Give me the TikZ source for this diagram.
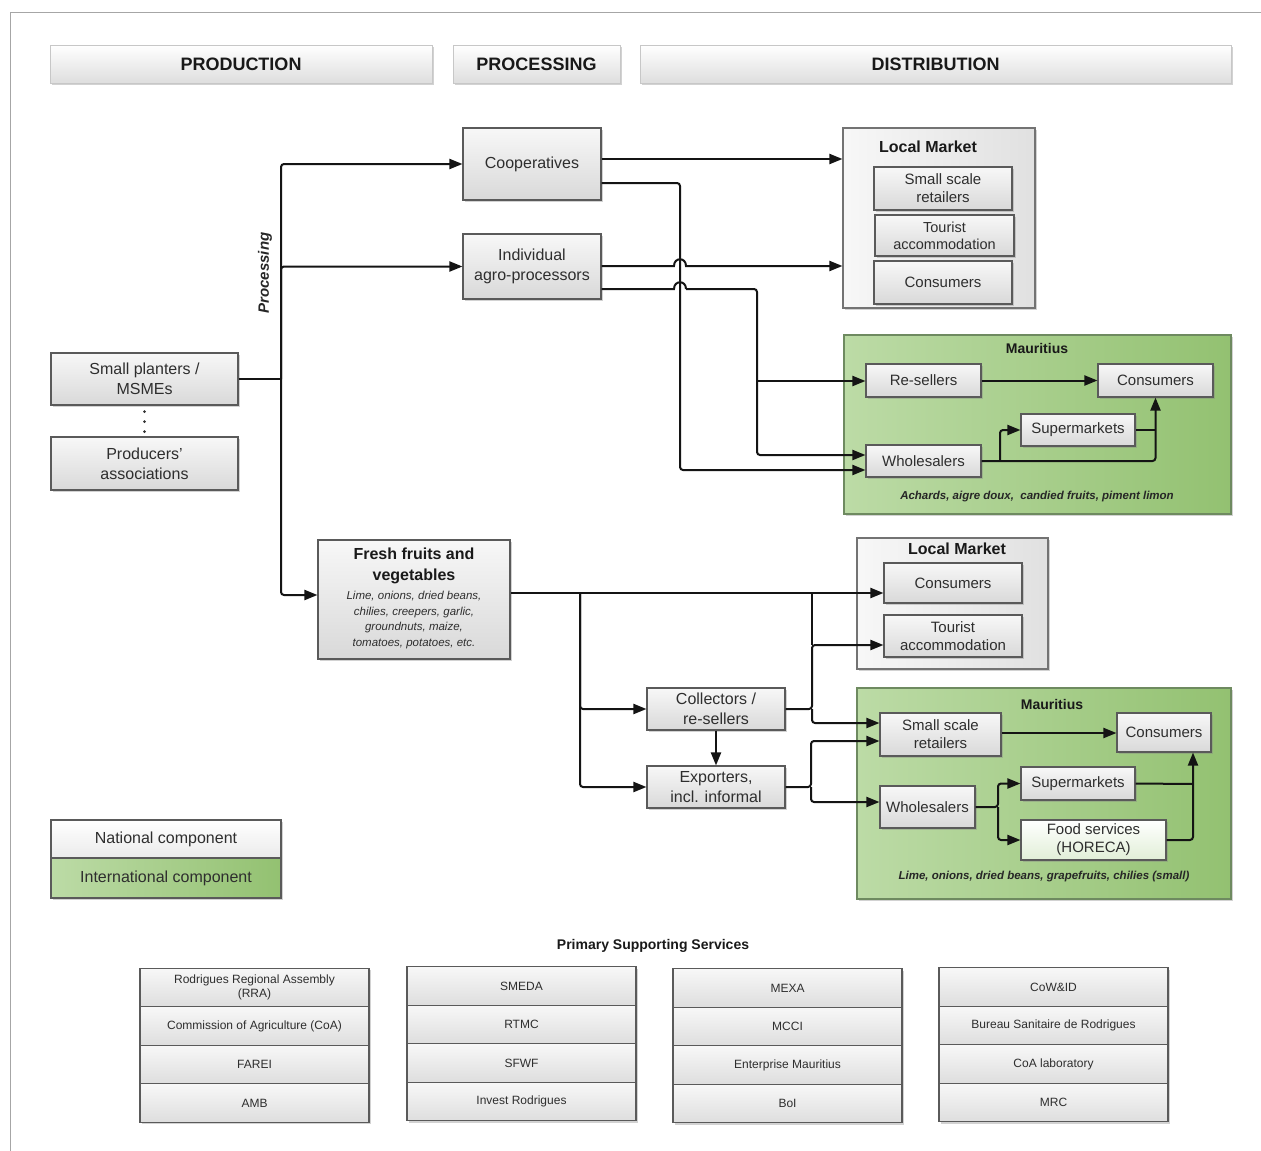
\documentclass[tikz,border=0pt]{standalone}
\usepackage{fontspec}
\setmainfont{Liberation Sans}
\usetikzlibrary{arrows.meta,shadows}
\definecolor{txt}{HTML}{2E2E2E}
\definecolor{bord}{HTML}{5A5A5A}
\definecolor{gA}{HTML}{BCDBA6}
\definecolor{gB}{HTML}{93C171}
\definecolor{gBord}{HTML}{6E8A60}
\tikzset{
  shd/.style={drop shadow={shadow xshift=1.5pt,shadow yshift=-1.8pt,opacity=0.35}},
  box/.style={draw=bord, line width=1.1pt, top color=white!97!black, bottom color=black!15, shd,
    align=center, inner sep=1pt, text=txt, font=\fontsize{15}{18}\selectfont},
  bigbox/.style={box, font=\fontsize{16}{20}\selectfont},
  hdr/.style={draw=black!22, line width=0.8pt, top color=white, bottom color=black!13, shd,
    font=\fontsize{18}{21}\selectfont\bfseries, text=black!90},
  lmbox/.style={draw=bord!85, line width=1.1pt, left color=white!97!black, right color=black!12, shd},
  mubox/.style={draw=gBord, line width=1.1pt, left color=gA, right color=gB, shd},
  ttl/.style={font=\fontsize{16}{19}\selectfont\bfseries, text=black!90},
  mttl/.style={font=\fontsize{14}{17}\selectfont\bfseries, text=black!90},
  note/.style={font=\fontsize{11.5}{14}\selectfont\bfseries\itshape, text=black!85},
  svc/.style={draw=bord, line width=1.1pt, top color=white!97!black, bottom color=black!13, shd,
    align=center, inner sep=1pt, text=txt, font=\fontsize{12}{14}\selectfont,
    minimum width=229pt, minimum height=38.5pt},
  ln/.style={draw=black!92, line width=2pt, rounded corners=3pt},
  conn/.style={ln, -{Triangle[length=13pt,width=10pt]}},
}
\begin{document}
\begin{tikzpicture}[x=1pt,y=-1pt]
\fill[white] (0,0) rectangle (1261,1151);
\useasboundingbox (0,0) rectangle (1261,1151);
\draw[black!35, line width=1pt] (1261,12) -- (10,12) -- (10,1151);

% headers
\node[hdr, minimum width=382pt, minimum height=38pt] (hprod) at (241,64) {PRODUCTION};
\node[hdr, minimum width=167pt, minimum height=38pt] (hproc) at (536.5,64) {PROCESSING};
\node[hdr, minimum width=591pt, minimum height=38pt] (hdist) at (935.5,64) {DISTRIBUTION};

% production
\node[bigbox, minimum width=187pt, minimum height=52pt] (planters) at (144.5,379) {Small planters /\\MSMEs};
\node[bigbox, minimum width=187pt, minimum height=53pt] (assoc) at (144.5,463.5) {Producers'\\associations};
\draw[black!80, line width=3pt, line cap=round, dash pattern=on 0pt off 10pt] ([yshift=-6pt]planters.south) -- ([yshift=4pt]assoc.north);

% processing
\node[bigbox, minimum width=138pt, minimum height=72pt] (coop) at (532,164) {Cooperatives};
\node[bigbox, minimum width=138pt, minimum height=65pt] (indiv) at (532,266.5) {Individual\\agro-processors};
\node[rotate=90, font=\fontsize{15}{18}\selectfont\bfseries\itshape, text=black!85] (proclab) at (265,273) {Processing};

% local market 1
\node[lmbox, minimum width=192pt, minimum height=180pt] (lm1) at (939,218) {};
\node[ttl] (lm1t) at (928,147) {Local Market};
\node[box, minimum width=138pt, minimum height=43pt] (lm1a) at (943,188.5) {Small scale\\retailers};
\node[box, minimum width=139pt, minimum height=41pt, font=\fontsize{14.5}{17}\selectfont] (lm1b) at (944.5,235.5) {Tourist\\accommodation};
\node[box, minimum width=138pt, minimum height=43pt] (lm1c) at (943,282.5) {Consumers};

% mauritius 1
\node[mubox, minimum width=387pt, minimum height=179pt] (mu1) at (1037.5,424.5) {};
\node[mttl] (mu1t) at (1037,348) {Mauritius};
\node[box, minimum width=115pt, minimum height=33pt] (resell) at (923.5,380.5) {Re-sellers};
\node[box, minimum width=115pt, minimum height=33pt] (cons1) at (1155.5,380.5) {Consumers};
\node[box, minimum width=114pt, minimum height=32pt] (super1) at (1078,430) {Supermarkets};
\node[box, minimum width=115pt, minimum height=32pt] (whole1) at (923.5,461) {Wholesalers};
\node[note] (note1) at (1037,497) {Achards, aigre doux,\ \ candied fruits, piment limon};

% fresh
\node[box, minimum width=192pt, minimum height=119pt] (fresh) at (414,599.5) {};
\node[align=center, font=\fontsize{16}{21}\selectfont\bfseries, text=black!90] (freshT) at (414,565.5) {Fresh fruits and\\vegetables};
\node[align=center, font=\fontsize{11.5}{15.5}\selectfont\itshape, text=txt] (freshL) at (414,620) {Lime, onions, dried beans,\\chilies, creepers, garlic,\\groundnuts, maize,\\tomatoes, potatoes, etc.};

% local market 2
\node[lmbox, minimum width=191pt, minimum height=131pt] (lm2) at (952.5,603.5) {};
\node[ttl] (lm2t) at (957,549) {Local Market};
\node[box, minimum width=138pt, minimum height=40pt] (lm2a) at (953,583) {Consumers};
\node[box, minimum width=138pt, minimum height=42pt] (lm2b) at (953,636) {Tourist\\accommodation};

% collectors / exporters
\node[bigbox, minimum width=138pt, minimum height=42pt] (coll) at (716,709) {Collectors /\\re-sellers};
\node[bigbox, minimum width=138pt, minimum height=42pt] (expo) at (716,787) {Exporters,\\incl. informal};

% mauritius 2
\node[mubox, minimum width=374pt, minimum height=211pt] (mu2) at (1044,793.5) {};
\node[mttl] (mu2t) at (1052,704) {Mauritius};
\node[box, minimum width=121pt, minimum height=43pt] (ssr2) at (940.5,734.5) {Small scale\\retailers};
\node[box, minimum width=94pt, minimum height=39pt] (cons2) at (1164,732.5) {Consumers};
\node[box, minimum width=114pt, minimum height=33pt] (super2) at (1078,783.5) {Supermarkets};
\node[box, minimum width=95pt, minimum height=42pt] (whole2) at (927.5,807) {Wholesalers};
\node[box, top color=white, bottom color=gA!45, minimum width=145pt, minimum height=40pt] (food) at (1093.5,840) {Food services\\(HORECA)};
\node[note] (note2) at (1044,877) {Lime, onions, dried beans, grapefruits, chilies (small)};

% legend
\node[bigbox, top color=white, bottom color=black!8, minimum width=230pt, minimum height=38pt] (legnat) at (166,839) {National component};
\node[bigbox, left color=gA, right color=gB, minimum width=230pt, minimum height=40pt] (legint) at (166,878) {International component};

% connectors - processing
\coordinate (trunk) at (281,379);
\draw[ln] (planters.east) -- (trunk);
\draw[conn] (trunk) |- (coop.west);
\draw[conn] (trunk) |- (indiv.west);
\draw[conn] (trunk) |- (fresh.west |- 0,595);

\draw[conn] (coop.east |- 0,159) -- (lm1.west |- 0,159);
\draw[conn] (coop.east |- 0,183) -- (680,183) -- (680,470) -- (whole1.west |- 0,470);
\draw[conn, sharp corners] (indiv.east |- 0,266) -- (674,266) .. controls (674,257) and (686,257) .. (686,266) -- (lm1.west |- 0,266);
\draw[ln, sharp corners] (indiv.east |- 0,289) -- (674,289) .. controls (674,280) and (686,280) .. (686,289);
\draw[conn] (686,289) -- (757,289) -- (757,455) -- (whole1.west |- 0,455);
\draw[conn] (757,381) -- (resell.west |- 0,381);
\draw[conn] (resell.east) -- (cons1.west);
\draw[conn] (whole1.east) -| (cons1.south);
\draw[conn] (1000,461) |- (super1.west);
\draw[ln] (super1.east) -- (cons1.south |- super1.east);

% connectors - fresh
\draw[conn] (fresh.east |- 0,593) -- (lm2a.west |- 0,593);
\draw[conn] (580,593) |- (coll.west);
\draw[conn] (580,593) |- (expo.west);
\draw[ln] (812,593) -- (812,645);
\draw[conn] (coll.east) -- (812,709) |- (lm2b.west |- 0,645);
\draw[conn] (812,709) |- (ssr2.west |- 0,723);
\draw[conn] (coll.south) -- (expo.north);
\draw[conn] (expo.east) -- (811,787) |- (ssr2.west |- 0,741);
\draw[conn] (811,787) |- (whole2.west |- 0,802);
\draw[conn] (ssr2.east |- 0,733) -- (cons2.west |- 0,733);
\draw[conn] (whole2.east) -- (998,807) |- (super2.west);
\draw[conn] (998,807) |- (food.west);
\draw[ln] (super2.east) -- (1193,784);
\draw[conn] (food.east) -| (1193,0 |- cons2.south);

% supporting services
\node[font=\fontsize{14}{17}\selectfont\bfseries, text=black!90] (svct) at (653,946) {Primary Supporting Services};
\node[svc] (s11) at (254.5,987.5) {Rodrigues Regional Assembly\\(RRA)};
\node[svc] (s12) at (254.5,1026) {Commission of Agriculture (CoA)};
\node[svc] (s13) at (254.5,1064.5) {FAREI};
\node[svc] (s14) at (254.5,1103) {AMB};
\node[svc] (s21) at (521.5,986) {SMEDA};
\node[svc] (s22) at (521.5,1024.5) {RTMC};
\node[svc] (s23) at (521.5,1063) {SFWF};
\node[svc] (s24) at (521.5,1101.5) {Invest Rodrigues};
\node[svc] (s31) at (787.5,988) {MEXA};
\node[svc] (s32) at (787.5,1026.5) {MCCI};
\node[svc] (s33) at (787.5,1065) {Enterprise Mauritius};
\node[svc] (s34) at (787.5,1103.5) {BoI};
\node[svc] (s41) at (1053.5,987) {CoW\&ID};
\node[svc] (s42) at (1053.5,1025.5) {Bureau Sanitaire de Rodrigues};
\node[svc] (s43) at (1053.5,1064) {CoA laboratory};
\node[svc] (s44) at (1053.5,1102.5) {MRC};
\end{tikzpicture}
\end{document}
